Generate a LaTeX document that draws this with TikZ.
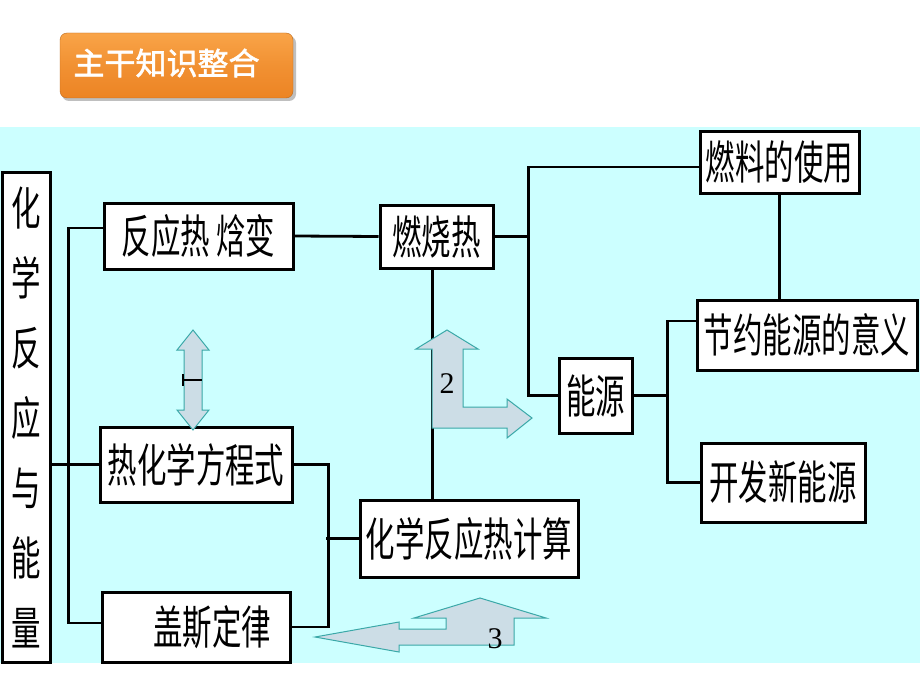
\documentclass[tikz,border=0pt]{standalone}
\usepackage{fontspec}
\newfontfamily\cjk[FakeStretch=0.64]{Noto Sans CJK SC}
\newfontfamily\titlefont[FakeBold=1.8]{Noto Sans CJK SC}
\newfontfamily\numfont{Liberation Serif}
\definecolor{bgcyan}{HTML}{CCFFFF}
\definecolor{arrowfill}{HTML}{CCDDE6}
\definecolor{arrowline}{HTML}{3AA8A8}
\definecolor{btntop}{HTML}{F9A448}
\definecolor{btnbot}{HTML}{EC8424}
\tikzset{
  box/.style={draw, line width=3pt, fill=white, inner sep=0pt,
    font=\cjk\fontsize{46}{52}\selectfont},
  link/.style={line width=2.8pt},
  fatarrow/.style={draw=arrowline, fill=arrowfill, line width=1pt, line join=miter}
}
\begin{document}
\begin{tikzpicture}[x=1pt, y=-1pt]
  \useasboundingbox (0, 0) rectangle (920, 690);
  \fill[white] (0, 0) rectangle (920, 690);
  \fill[bgcyan] (0, 127) rectangle (920, 663);
  % title button
  \fill[black!25, rounded corners=7pt] (62, 36) rectangle (296, 101);
  \shade[top color=btntop, bottom color=btnbot, middle color=btnbot!60!btntop,
    draw=btnbot!80!black, rounded corners=7pt] (60, 33) rectangle (293, 98);
  \node[text=white, font=\titlefont\fontsize{31}{36}\selectfont, anchor=west] (title) at (70, 63) {主干知识整合};
  % boxes
  \node[box, minimum width=48pt, minimum height=490pt, align=center,
    font=\cjk\fontsize{46}{70}\selectfont] (topic) at (26, 417)
    {化\\学\\反\\应\\与\\能\\量};
  \node[box, minimum width=189pt, minimum height=66pt] (heat) at (198.5, 236) {反应热\ 焓变};
  \node[box, minimum width=192pt, minimum height=75pt] (eqn) at (196, 464.5) {热化学方程式};
  \node[box, minimum width=188pt, minimum height=70pt] (hess) at (196, 627) {\hspace*{32pt}盖斯定律};
  \node[box, minimum width=113pt, minimum height=63pt] (comb) at (436.5, 236.5) {燃烧热};
  \node[box, minimum width=218pt, minimum height=77pt] (calc) at (469, 538.5) {化学反应热计算};
  \node[box, minimum width=159pt, minimum height=62pt] (fuel) at (779.5, 162) {燃料的使用};
  \node[box, minimum width=220pt, minimum height=70pt] (save) at (807, 335) {节约能源的意义};
  \node[box, minimum width=164pt, minimum height=79pt] (newsrc) at (783, 482.5) {开发新能源};
  \node[box, minimum width=73pt, minimum height=75pt] (energy) at (595.5, 395.5) {能源};
  % connectors
  \draw[link] (topic.east |- eqn.west) -- (eqn.west);
  \draw[link] ([yshift=8pt]heat.west) -- ++(-34, 0) |- ([yshift=4pt]hess.west);
  \draw[link] (eqn.east) -- ++(35, 0) |- (hess.east);
  \draw[link] (calc.west) -- ++(-33, 0);
  \draw[link] (heat.east) -- (comb.west);
  \draw[link] (comb.east) -- ++(34, 0) coordinate (jcomb);
  \draw[link] ([yshift=-5pt]fuel.west) -| (jcomb) |- (energy.west);
  \draw[link] (energy.east) -- ++(34, 0) coordinate (jenergy);
  \draw[link] ([yshift=14pt]save.west) -| (jenergy) |- (newsrc.west);
  \draw[link] (fuel.south) -- (fuel.south |- save.north);
  \draw[link] ([xshift=-4pt]comb.south) -- ([xshift=-4pt]comb.south |- calc.north);
  % block arrows
  \draw[fatarrow] (184, 350) -- (177, 350) -- (193, 330) -- (209, 350) -- (202, 350)
    -- (202, 410) -- (209, 410) -- (193, 430) -- (177, 410) -- (184, 410) -- cycle;
  \draw[line width=1.8pt, |-] (182, 380) -- (202, 380);
  \draw[fatarrow] (432, 428) -- (432, 349) -- (416, 349) -- (447, 330) -- (478, 349)
    -- (463, 349) -- (463, 407) -- (507, 407) -- (507, 399) -- (532, 418)
    -- (507, 438) -- (507, 428) -- cycle;
  \node[font=\numfont\fontsize{30}{36}\selectfont] (two) at (447, 384) {2};
  \draw[fatarrow] (315, 637) -- (399, 622) -- (399, 629) -- (446, 629) -- (446, 618)
    -- (414, 618) -- (480, 598) -- (546, 618) -- (514, 618) -- (514, 645)
    -- (399, 645) -- (399, 652) -- cycle;
  \node[font=\numfont\fontsize{30}{36}\selectfont] (three) at (495, 639) {3};
\end{tikzpicture}
\end{document}
